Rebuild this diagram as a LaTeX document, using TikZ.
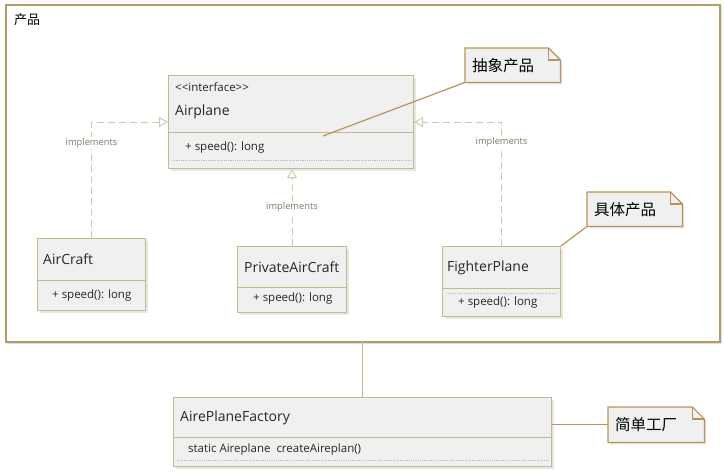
\documentclass[tikz,border=0pt]{standalone}
\usepackage{fontspec}
\setmainfont{Open Sans}
\newfontfamily\cjk{Noto Sans CJK SC}
\usetikzlibrary{positioning, arrows.meta, shadows}
\definecolor{ClassBorder}{HTML}{C2BA8C}
\definecolor{ClassFill}{HTML}{F0F0F0}
\definecolor{NoteBorder}{HTML}{B8945C}
\definecolor{PackBorder}{HTML}{B39B6E}
\definecolor{RealizeLine}{HTML}{CFC9A8}
\definecolor{LabelGray}{HTML}{7A7A66}
\definecolor{DotGray}{HTML}{BDBDBD}
\pgfdeclarelayer{background}
\pgfsetlayers{background,main}
\newcommand{\notefold}[1]{%
  \begin{pgfonlayer}{background}
    \draw[noteline, fill=ClassFill, drop shadow={opacity=0.2, shadow xshift=2pt, shadow yshift=-2pt}]
      (#1.south west) -- (#1.north west) -- ([xshift=-12pt]#1.north east)
      -- ([yshift=-12pt]#1.north east) -- (#1.south east) -- cycle;
  \end{pgfonlayer}
  \draw[noteline] ([xshift=-12pt]#1.north east) |- ([yshift=-12pt]#1.north east);
}

\begin{document}
\begin{tikzpicture}[x=1pt, y=-1pt,
    classbox/.style={draw=ClassBorder, fill=ClassFill, line width=1pt, anchor=north west,
      inner sep=0pt, drop shadow={opacity=0.2, shadow xshift=2pt, shadow yshift=-2pt}},
    classline/.style={draw=ClassBorder, line width=1pt},
    dotline/.style={draw=DotGray, densely dotted, line width=0.8pt},
    nametext/.style={font=\fontsize{14}{17}\selectfont, anchor=west, inner sep=0pt, text=black!85},
    membertext/.style={font=\fontsize{11.5}{14}\selectfont, anchor=west, inner sep=0pt, text=black!85},
    realize/.style={draw=RealizeLine, dashed, dash pattern=on 7pt off 4pt, line width=1pt,
      -{Triangle[open, length=9pt, width=10pt, fill=white]}},
    implabel/.style={font=\fontsize{9.3}{11}\selectfont, text=LabelGray, fill=white, inner sep=1pt},
    notebox/.style={minimum width=#1, minimum height=34pt, anchor=north west, inner xsep=7pt,
      text width=#1-14pt, align=left, font=\cjk\fontsize{15.5}{18}\selectfont},
    noteline/.style={draw=NoteBorder, line width=1.2pt},
    assoc/.style={draw=ClassBorder, line width=1pt}
  ]
  \useasboundingbox (0,0) rectangle (724,474);

  % Package frame
  \draw[black!12, line width=1.5pt] (7,343) -- (721,343) -- (721,6);
  \node[draw=PackBorder, line width=1.5pt, anchor=north west, minimum width=714pt, minimum height=337pt] (product) at (5,4) {};
  \node[anchor=west, inner sep=0pt, font=\cjk\fontsize{13}{15}\selectfont] (productlabel) at (14,20) {产品};

  % Interface
  \node[classbox, minimum width=245pt, minimum height=93pt] (airplane) at (168,75) {};
  \draw[classline] ([yshift=-57pt]airplane.north west) -- ([yshift=-57pt]airplane.north east);
  \draw[dotline] ([xshift=4pt, yshift=-85pt]airplane.north west) -- ([xshift=-4pt, yshift=-85pt]airplane.north east);
  \node[membertext] (airplanestereo) at (175,87) {<{}<interface>{}>};
  \node[nametext] (airplanename) at (175,112) {Airplane};
  \node[membertext] (airplanespeed) at (185,148) {+ speed(): long};

  % Concrete products
  \node[classbox, minimum width=108pt, minimum height=72pt] (aircraft) at (37,238) {};
  \draw[classline] ([yshift=-42pt]aircraft.north west) -- ([yshift=-42pt]aircraft.north east);
  \node[nametext] (aircraftname) at (43,259) {AirCraft};
  \node[membertext] (aircraftspeed) at (52,296) {+ speed(): long};

  \node[classbox, minimum width=109pt, minimum height=66pt] (private) at (237,246) {};
  \draw[classline] ([yshift=-41pt]private.north west) -- ([yshift=-41pt]private.north east);
  \node[nametext] (privatename) at (244,267) {PrivateAirCraft};
  \node[membertext] (privatespeed) at (253,299) {+ speed(): long};

  \node[classbox, minimum width=118pt, minimum height=70pt] (fighter) at (442,246) {};
  \draw[classline] ([yshift=-42pt]fighter.north west) -- ([yshift=-42pt]fighter.north east);
  \draw[dotline] ([xshift=4pt, yshift=-47pt]fighter.north west) -- ([xshift=-4pt, yshift=-47pt]fighter.north east);
  \node[nametext] (fightername) at (447,268) {FighterPlane};
  \node[membertext] (fighterspeed) at (458,303) {+ speed(): long};

  % Realizations
  \draw[realize] (aircraft.north) |- node[implabel, pos=0.41] {implements} (airplane.west);
  \draw[realize] (private.north) -- node[implabel, pos=0.5] {implements} (private.north |- airplane.south);
  \draw[realize] (fighter.north) |- node[implabel, pos=0.42] {implements} (airplane.east);

  % Factory
  \node[classbox, minimum width=378pt, minimum height=69pt] (factory) at (173,397) {};
  \draw[classline] ([yshift=-40pt]factory.north west) -- ([yshift=-40pt]factory.north east);
  \draw[dotline] ([xshift=4pt, yshift=-63pt]factory.north west) -- ([xshift=-4pt, yshift=-63pt]factory.north east);
  \node[nametext] (factoryname) at (180,418) {AirePlaneFactory};
  \node[membertext] (factorymethod) at (188,450) {static Aireplane\ \ createAireplan()};

  \coordinate (joint) at (362,341);
  \draw[assoc] (joint) -- (joint |- factory.north);

  % Notes
  \node[notebox=95pt] (abstractnote) at (465,48) {抽象产品};
  \notefold{abstractnote}
  \node[notebox=95pt] (concretenote) at (587,192) {具体产品};
  \notefold{concretenote}
  \node[notebox=96pt, minimum height=35pt] (factorynote) at (608,407) {简单工厂};
  \notefold{factorynote}

  \coordinate (abstracttip) at (323,136);
  \draw[noteline] (abstracttip) -- (abstractnote.south west);
  \draw[noteline] (fighter.north east) -- (concretenote.south west);
  \draw[noteline] (factorynote.west -| factory.east) -- (factorynote.west);
\end{tikzpicture}
\end{document}
